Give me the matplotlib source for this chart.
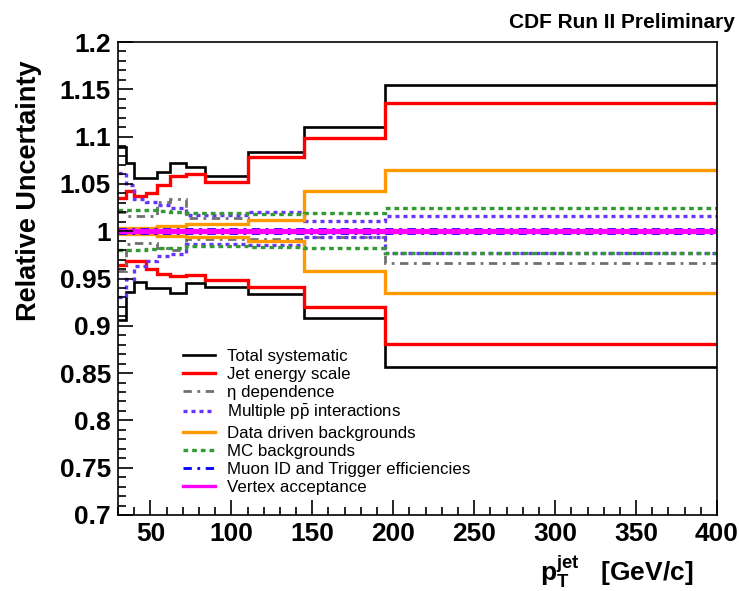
"""CDF relative systematic uncertainties vs jet pT."""

import matplotlib
matplotlib.use('Agg')
import matplotlib.pyplot as plt
from matplotlib.ticker import MultipleLocator

plt.rcParams['font.family'] = ['Liberation Sans', 'DejaVu Sans']
plt.rcParams['mathtext.fontset'] = 'custom'
plt.rcParams['mathtext.rm'] = 'Liberation Sans'
plt.rcParams['mathtext.bf'] = 'Liberation Sans:bold'
plt.rcParams['mathtext.it'] = 'Liberation Sans:italic'

# Bin edges in jet pT [GeV/c]
edges = [30, 35, 40, 47, 54, 62, 72, 84, 110, 145, 195, 400]

# Upper / lower bands per source
total_up = [1.089, 1.072, 1.056, 1.056, 1.063, 1.072, 1.068, 1.058, 1.084, 1.110, 1.155]
total_dn = [0.906, 0.936, 0.946, 0.940, 0.940, 0.935, 0.945, 0.941, 0.934, 0.908, 0.856]
jes_up = [1.035, 1.042, 1.037, 1.040, 1.049, 1.058, 1.061, 1.052, 1.078, 1.099, 1.136]
jes_dn = [0.964, 0.968, 0.968, 0.960, 0.955, 0.953, 0.954, 0.948, 0.941, 0.920, 0.881]
eta_up = [1.020, 1.016, 1.016, 1.016, 1.031, 1.034, 1.014, 1.014, 1.012, 1.000, 1.000]
eta_dn = [0.958, 0.986, 0.988, 0.988, 0.982, 0.980, 0.992, 0.992, 0.992, 0.994, 0.966]
mult_up = [1.062, 1.049, 1.034, 1.031, 1.028, 1.025, 1.017, 1.017, 1.020, 1.011, 1.016]
mult_dn = [0.930, 0.950, 0.963, 0.968, 0.974, 0.976, 0.986, 0.986, 0.985, 0.994, 0.977]
data_up = [1.003, 1.003, 1.003, 1.003, 1.005, 1.005, 1.008, 1.008, 1.012, 1.043, 1.065]
data_dn = [0.997, 0.997, 0.997, 0.997, 0.995, 0.995, 0.994, 0.994, 0.990, 0.958, 0.935]
mc_up = [1.022, 1.022, 1.022, 1.022, 1.021, 1.020, 1.019, 1.019, 1.018, 1.019, 1.025]
mc_dn = [0.980, 0.980, 0.980, 0.981, 0.982, 0.982, 0.984, 0.984, 0.983, 0.982, 0.977]
muon_up = [1.002, 1.002, 1.002, 1.002, 1.002, 1.002, 1.002, 1.002, 1.002, 1.002, 1.002]
muon_dn = [0.998, 0.998, 0.998, 0.998, 0.998, 0.998, 0.998, 0.998, 0.998, 0.998, 0.998]
vtx_up = [1.001, 1.001, 1.001, 1.001, 1.001, 1.001, 1.001, 1.001, 1.001, 1.001, 1.001]
vtx_dn = [0.999, 0.999, 0.999, 0.999, 0.999, 0.999, 0.999, 0.999, 0.999, 0.999, 0.999]

labels = ['Total systematic', 'Jet energy scale', '\u03b7 dependence',
          r'Multiple p$\mathrm{\bar{p}}$ interactions', 'Data driven backgrounds',
          'MC backgrounds', 'Muon ID and Trigger efficiencies', 'Vertex acceptance']

bands = [(total_up, total_dn), (jes_up, jes_dn), (eta_up, eta_dn),
         (mult_up, mult_dn), (data_up, data_dn), (mc_up, mc_dn),
         (muon_up, muon_dn), (vtx_up, vtx_dn)]

styles = [
    dict(color='black', lw=1.9, ls='-'),
    dict(color='#ff0000', lw=2.4, ls='-'),
    dict(color='#707070', lw=2.0, ls=(0, (3, 2, 1, 2))),
    dict(color='#6633ff', lw=2.4, ls=(0, (1.2, 1.2))),
    dict(color='#ff9900', lw=2.4, ls='-'),
    dict(color='#339933', lw=2.4, ls=(0, (1.4, 1.2))),
    dict(color='#0000ff', lw=2.0, ls=(0, (3, 2, 1, 2))),
    dict(color='#ff00ff', lw=2.4, ls='-'),
]

fig = plt.figure(figsize=(7.39, 5.91), dpi=100)
ax = fig.add_axes([0.1597, 0.1286, 0.8106, 0.8003])

handles = []
for (up, dn), st in zip(bands, styles):
    h = ax.stairs(up, edges, baseline=None, **st)
    ax.stairs(dn, edges, baseline=None, **st)
    handles.append(h)

ax.set_xlim(30, 400)
ax.set_ylim(0.7, 1.2)

ax.xaxis.set_major_locator(MultipleLocator(50))
ax.xaxis.set_minor_locator(MultipleLocator(10))
ax.yaxis.set_major_locator(MultipleLocator(0.05))
ax.yaxis.set_minor_locator(MultipleLocator(0.01))
ax.tick_params(which='both', direction='in', top=False, right=False, width=1.2)
ax.tick_params(which='major', length=11, labelsize=19, pad=5)
ax.tick_params(which='minor', length=5.5)
ax.set_yticks([0.7, 0.75, 0.8, 0.85, 0.9, 0.95, 1.0, 1.05, 1.1, 1.15, 1.2],
              ['0.7', '0.75', '0.8', '0.85', '0.9', '0.95', '1', '1.05', '1.1', '1.15', '1.2'])
for t in ax.get_xticklabels() + ax.get_yticklabels():
    t.set_fontweight('bold')
for s in ax.spines.values():
    s.set_linewidth(1.2)

ax.set_ylabel('Relative Uncertainty', fontsize=19.5, fontweight='bold', loc='top')
ax.yaxis.set_label_coords(-0.127, 0.962)
ax.set_xlabel(r'$\mathbf{p}_\mathbf{T}^\mathbf{jet}$   [GeV/c]', fontsize=19,
              fontweight='bold', loc='right')
ax.xaxis.set_label_coords(0.96, -0.080)

ax.legend(handles, labels, loc='upper left', bbox_to_anchor=(0.1085, 0.352),
          frameon=False, fontsize=12.2, handlelength=1.9, handletextpad=0.7,
          labelspacing=0.19, borderpad=0, borderaxespad=0)

fig.text(0.995, 0.962, 'CDF Run II Preliminary', ha='right', va='center',
         fontsize=15, fontweight='bold')

fig.savefig('out.png', dpi=100)
